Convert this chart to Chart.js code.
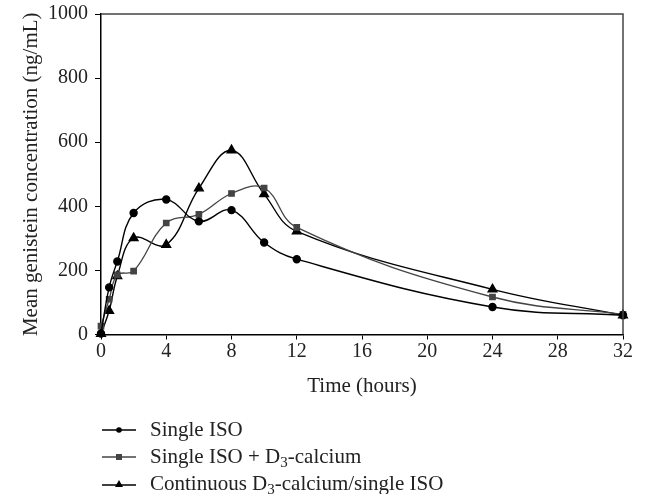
<!DOCTYPE html>
<html><head><meta charset="utf-8">
<script src="https://cdn.jsdelivr.net/npm/chart.js@4/dist/chart.umd.min.js"></script>
<style>
html,body{margin:0;padding:0;background:#fff;}
#wrap{position:relative;width:646px;height:494px;overflow:hidden;}
#legend{position:absolute;left:102px;top:416px;font-family:"Liberation Serif","DejaVu Serif",serif;font-size:21px;color:#222;}
.row{height:27px;line-height:27px;display:flex;align-items:center;white-space:nowrap;}
.row svg{margin-right:14px;flex:none;}
sub{font-size:15px;vertical-align:-4px;line-height:0;}
</style></head>
<body><div id="wrap"><canvas id="c" width="646" height="494"></canvas>
<div id="legend">
<div class="row"><svg width="34" height="10"><line x1="0" y1="5" x2="34" y2="5" stroke="#000" stroke-width="1.4"/><circle cx="17" cy="5" r="2.8" fill="#000"/></svg><span>Single ISO</span></div>
<div class="row"><svg width="34" height="10"><line x1="0" y1="5" x2="34" y2="5" stroke="#444" stroke-width="1.4"/><rect x="14" y="2" width="6" height="6" fill="#444"/></svg><span>Single ISO + D<sub>3</sub>-calcium</span></div>
<div class="row"><svg width="34" height="10"><line x1="0" y1="6" x2="34" y2="6" stroke="#000" stroke-width="1.4"/><polygon points="17,1 21,8 13,8" fill="#000"/></svg><span>Continuous D<sub>3</sub>-calcium/single ISO</span></div>
</div></div>
<script>
const times = [0, 0.5, 1, 2, 4, 6, 8, 10, 12, 24, 32];
const singleISO = [3, 147, 228, 379, 421, 353, 388, 287, 235, 86, 60];
const singleISOD3 = [26, 110, 186, 198, 348, 375, 440, 457, 334, 117, 63];
const continuousD3 = [2, 74, 182, 301, 280, 456, 575, 438, 322, 141, 60];
const seriesNames = ["Single ISO", "Single ISO + D\u2083-calcium", "Continuous D\u2083-calcium/single ISO"];
const xTicks = [0, 4, 8, 12, 16, 20, 24, 28, 32];
const yTicks = [0, 200, 400, 600, 800, 1000];

const toXY = (vals) => vals.map((v, i) => ({x: times[i], y: v}));
const tickFont = {family: "'Liberation Serif','DejaVu Serif',serif", size: 20};
const titleFont = {family: "'Liberation Serif','DejaVu Serif',serif", size: 21};

const boxPlugin = {
  id: 'box',
  afterDraw(chart) {
    const a = chart.chartArea, ctx = chart.ctx;
    ctx.save();
    ctx.strokeStyle = '#444';
    ctx.lineWidth = 1.5;
    ctx.beginPath();
    ctx.moveTo(a.left, a.top);
    ctx.lineTo(a.right, a.top);
    ctx.lineTo(a.right, a.bottom);
    ctx.stroke();
    ctx.restore();
  }
};

new Chart(document.getElementById('c'), {
  type: 'line',
  data: {
    datasets: [
      {label: seriesNames[0], data: toXY(singleISO), borderColor: '#000', backgroundColor: '#000', pointStyle: 'circle', pointRadius: 3.5, borderWidth: 1.4, tension: 0.4, clip: false},
      {label: seriesNames[1], data: toXY(singleISOD3), borderColor: '#444', backgroundColor: '#444', pointStyle: 'rect', pointRadius: 3.8, borderWidth: 1.3, tension: 0.4, clip: false},
      {label: seriesNames[2], data: toXY(continuousD3), borderColor: '#000', backgroundColor: '#000', pointStyle: 'triangle', pointRadius: 5, borderWidth: 1.4, tension: 0.4, clip: false}
    ]
  },
  options: {
    responsive: false,
    animation: false,
    layout: {padding: {top: 14, right: 23, bottom: 94.5, left: 0}},
    plugins: {legend: {display: false}, tooltip: {enabled: false}},
    scales: {
      x: {
        type: 'linear', min: 0, max: 32,
        afterBuildTicks: (s) => { s.ticks = xTicks.map(v => ({value: v})); },
        afterFit: (s) => { s.height = 65; s.paddingLeft = 0; s.paddingRight = 0; },
        ticks: {font: tickFont, color: '#222', padding: 0, maxRotation: 0, callback: (v) => String(v)},
        grid: {drawOnChartArea: false, drawTicks: true, tickLength: 5, color: '#000'},
        border: {display: true, color: '#000', width: 1.5},
        title: {display: true, text: 'Time (hours)', font: titleFont, color: '#222', padding: {top: 0, bottom: 0}}
      },
      y: {
        min: 0, max: 1000,
        afterBuildTicks: (s) => { s.ticks = yTicks.map(v => ({value: v})); },
        afterFit: (s) => { s.width = 101; s.paddingTop = 0; s.paddingBottom = 0; },
        ticks: {font: tickFont, color: '#222', padding: 7, callback: (v) => String(v)},
        grid: {drawOnChartArea: false, drawTicks: true, tickLength: 6, color: '#000'},
        border: {display: true, color: '#000', width: 1.5},
        title: {display: true, text: 'Mean genistein concentration (ng/mL)', font: titleFont, color: '#222', padding: {top: 19, bottom: 0}}
      }
    }
  },
  plugins: [boxPlugin]
});
</script>
</body></html>
